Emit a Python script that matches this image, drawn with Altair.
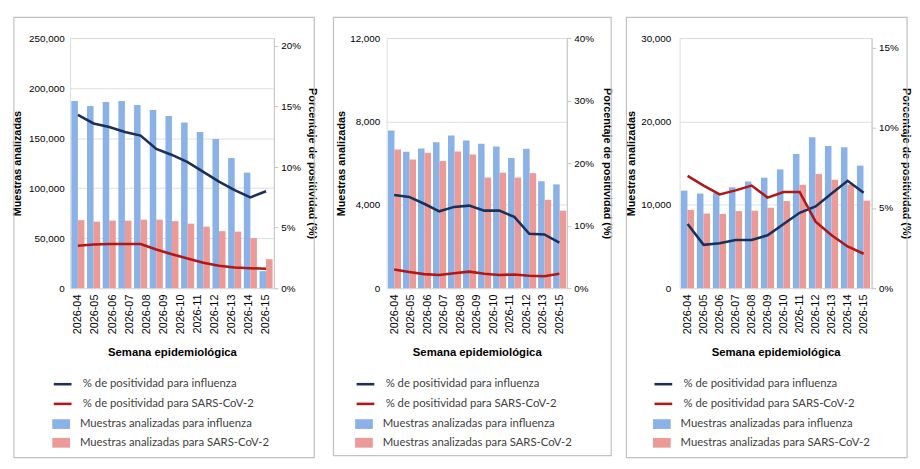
import altair as alt
import pandas as pd

SERIES_LINEA = ["% de positividad para influenza", "% de positividad para SARS-CoV-2"]
SERIES_BARRA = ["Muestras analizadas para influenza", "Muestras analizadas para SARS-CoV-2"]
COL_LINEA = ["#1c2f5a", "#b01818"]
COL_BARRA = ["#8ab2e6", "#ec9a97"]

# ---------- Panel 1 ----------
p1_etiquetas = ["2026-04", "2026-05", "2026-06", "2026-07", "2026-08", "2026-09",
                "2026-10", "2026-11", "2026-12", "2026-13", "2026-14", "2026-15"]
p1_muestras_flu = [187000, 182000, 186000, 187000, 183000, 178000, 172000,
                   165500, 156000, 149000, 130000, 115500, 17000]
p1_muestras_cov = [68000, 66500, 67500, 67500, 68500, 68500, 67000,
                   64500, 61500, 57000, 56500, 50000, 29000]
p1_pos_flu = [14.3, 13.6, 13.3, 12.9, 12.6, 11.5, 11.0, 10.4, 9.6, 8.8, 8.1, 7.5, 8.0]
p1_pos_cov = [3.5, 3.6, 3.65, 3.65, 3.65, 3.2, 2.8, 2.45, 2.1, 1.85, 1.7, 1.65, 1.6]

# ---------- Panel 2 ----------
p2_etiquetas = ["2026-04", "2026-05", "2026-06", "2026-07", "2026-08", "2026-09",
                "2026-10", "2026-11", "2026-12", "2026-13", "2026-15"]
p2_muestras_flu = [7560, 6540, 6700, 7000, 7320, 7090, 6930, 6800, 6250, 6690, 5130, 4980]
p2_muestras_cov = [6650, 6170, 6500, 6100, 6560, 6410, 5310, 5540, 5310, 5520, 4240, 3720]
p2_pos_flu = [14.9, 14.6, 13.5, 12.3, 13.0, 13.2, 12.4, 12.4, 11.4, 8.7, 8.6, 7.3]
p2_pos_cov = [3.0, 2.6, 2.25, 2.1, 2.4, 2.65, 2.3, 2.1, 2.2, 2.0, 1.9, 2.3]

# ---------- Panel 3 ----------
p3_etiquetas = ["2026-04", "2026-05", "2026-06", "2026-07", "2026-08", "2026-09",
                "2026-10", "2026-11", "2026-12", "2026-13", "2026-14", "2026-15"]
p3_muestras_flu = [11700, 11350, 11400, 12100, 12800, 13250, 14250, 16100, 18100, 17050, 16900, 14700]
p3_muestras_cov = [9400, 8950, 8900, 9250, 9300, 9650, 10450, 12400, 13700, 13000, 12450, 10500]
p3_pos_flu = [4.0, 2.7, 2.8, 3.0, 3.0, 3.3, 4.0, 4.7, 5.1, 5.9, 6.7, 5.95]
p3_pos_cov = [7.0, 6.4, 5.85, 6.1, 6.4, 5.65, 6.0, 6.0, 4.15, 3.3, 2.6, 2.15]

FONT = "Lato"
H = 254


def panel(etiquetas, flu, cov, pflu, pcov, ymax, yticks, pmax, pticks,
          width, legx, frame, ltitle_pad, llabel_pad, rtitle_pad):
    n = len(flu)
    grupos = list(range(n))
    bars_df = pd.DataFrame({
        "grupo": grupos * 2,
        "serie": [SERIES_BARRA[0]] * n + [SERIES_BARRA[1]] * n,
        "valor": flu + cov,
    })
    lines_df = pd.DataFrame({
        "grupo": grupos * 2,
        "serie": [SERIES_LINEA[0]] * n + [SERIES_LINEA[1]] * n,
        "pct": [v / 100 for v in pflu + pcov],
    })
    lab_df = pd.DataFrame({"etiqueta": etiquetas})

    xband = alt.Scale(type="band", domain=grupos, paddingInner=0, paddingOuter=0)
    legend_common = dict(orient="none", legendX=legx, title=None, padding=0,
                         symbolSize=324, labelFont=FONT, labelFontSize=11.5,
                         labelColor="#404040", labelOffset=10, rowPadding=4,
                         labelLimit=400)

    bars = alt.Chart(bars_df).mark_bar().encode(
        x=alt.X("grupo:O", scale=xband, axis=None),
        xOffset=alt.XOffset("serie:N", scale=alt.Scale(domain=SERIES_BARRA,
                                                       paddingInner=0, paddingOuter=0.2)),
        y=alt.Y("valor:Q", scale=alt.Scale(domain=[0, ymax], nice=False),
                axis=alt.Axis(title="Muestras analizadas", values=yticks, format=",d",
                              domain=False, ticks=False, tickSize=0, grid=True,
                              labelPadding=llabel_pad, titlePadding=ltitle_pad)),
        fill=alt.Fill("serie:N", scale=alt.Scale(domain=SERIES_BARRA, range=COL_BARRA),
                      legend=alt.Legend(legendY=383, symbolType="M-1,-0.55H1V0.55H-1Z",
                                        symbolStrokeWidth=0, **legend_common)),
    )

    lines = alt.Chart(lines_df).mark_line(strokeWidth=2.6).encode(
        x=alt.X("grupo:O", scale=xband, axis=None),
        y=alt.Y("pct:Q", scale=alt.Scale(domain=[0, pmax], nice=False),
                axis=alt.Axis(title="Porcentaje de positividad (%)", orient="right",
                              values=pticks, format=".0%", grid=False,
                              domain=True, domainColor="#c4c4c4", ticks=True,
                              tickColor="#c4c4c4", tickSize=4, labelPadding=3,
                              titlePadding=rtitle_pad)),
        stroke=alt.Stroke("serie:N", scale=alt.Scale(domain=SERIES_LINEA, range=COL_LINEA),
                          legend=alt.Legend(legendY=341, symbolType="stroke",
                                            symbolStrokeWidth=2.6, **legend_common)),
    )

    pad = (len(etiquetas) - 1) / (2 * n - 2)
    labels = alt.Chart(lab_df).mark_point(opacity=0).encode(
        x=alt.X("etiqueta:O", sort=None, scale=alt.Scale(type="point", padding=pad),
                axis=alt.Axis(orient="bottom", title="Semana epidemiológica", labelAngle=-90,
                              domain=False, ticks=False, tickSize=0, grid=False,
                              labelFontSize=11, labelPadding=6, titlePadding=13,
                              titleFontSize=11.5)),
        y=alt.value(0),
    )

    fx0, fx1, fy0, fy1 = frame
    box = alt.Chart(pd.DataFrame({"k": [0]})).mark_rect(
        fill="transparent", stroke="#c0c0c0", strokeWidth=1.2
    ).encode(x=alt.value(fx0), x2=alt.value(fx1), y=alt.value(fy0), y2=alt.value(fy1))

    return alt.layer(box, bars, lines, labels).resolve_scale(
        x="independent", y="independent"
    ).properties(width=width, height=H)


p1 = panel(p1_etiquetas, p1_muestras_flu, p1_muestras_cov, p1_pos_flu, p1_pos_cov,
           250000, [0, 50000, 100000, 150000, 200000, 250000],
           0.2065, [0, 0.05, 0.10, 0.15, 0.20],
           207, -18, (-57, 248, -21, 426), 6, 6, 6)
p2 = panel(p2_etiquetas, p2_muestras_flu, p2_muestras_cov, p2_pos_flu, p2_pos_cov,
           12000, [0, 4000, 8000, 12000],
           0.40, [0, 0.10, 0.20, 0.30, 0.40],
           183, -32, (-54, 228, -21, 424), 3, 7, 8)
p3 = panel(p3_etiquetas, p3_muestras_flu, p3_muestras_cov, p3_pos_flu, p3_pos_cov,
           30000, [0, 10000, 20000, 30000],
           0.156, [0, 0.05, 0.10, 0.15],
           195, -27, (-54, 231, -21, 426), 4, 9, 2)

chart = alt.hconcat(p1, p2, p3, spacing=114.5, bounds="flush").resolve_scale(
    fill="independent", stroke="independent"
).properties(
    padding={"left": 3, "top": 4, "right": 0, "bottom": 0}
).configure_view(
    stroke="transparent"
).configure_axis(
    labelFont=FONT, labelFontSize=10.5, labelColor="#595959",
    titleFont=FONT, titleFontSize=10.5, titleFontWeight="bold", titleColor="#404040",
    gridColor="#d9d9d9", gridWidth=1
).configure(background="white")

chart.save("out.html", embed_options={"renderer": "svg", "actions": False})
